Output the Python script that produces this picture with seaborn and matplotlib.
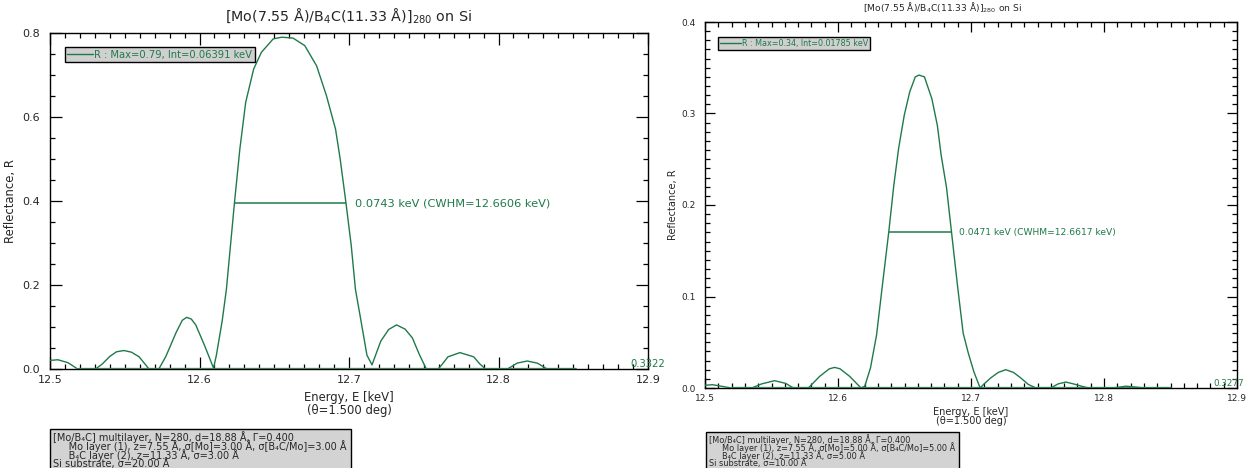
import matplotlib
matplotlib.use("Agg")
import matplotlib.pyplot as plt
from matplotlib.patches import Rectangle
from matplotlib.ticker import MultipleLocator, FormatStrFormatter
import pandas as pd
import seaborn as sns

# ---- reflectivity curves: energy (keV) and reflectance ----
energy_a = [12.500, 12.5053, 12.512, 12.5155, 12.5185, 12.5305, 12.535, 12.540, 12.5445,
            12.5495, 12.5545, 12.5596, 12.5635, 12.5662, 12.5728, 12.5775, 12.5845, 12.5885,
            12.5914, 12.5945, 12.5975, 12.6035, 12.6094, 12.6113, 12.6152, 12.6180, 12.6203,
            12.6235, 12.627, 12.6309, 12.6362, 12.6414, 12.6493, 12.6551, 12.6625, 12.6704,
            12.6783, 12.6849, 12.691, 12.6941, 12.6978, 12.7015, 12.7043, 12.708, 12.712,
            12.7154, 12.7212, 12.7265, 12.7318, 12.7375, 12.7424, 12.747, 12.7517, 12.7596,
            12.7625, 12.7662, 12.7742, 12.7834, 12.7875, 12.7914, 12.806, 12.8125, 12.8192,
            12.826, 12.8325, 12.852]
refl_a = [0.0205, 0.022, 0.015, 0.007, 0.0, 0.0, 0.012, 0.030, 0.041,
          0.044, 0.040, 0.029, 0.012, 0.0, 0.0, 0.030, 0.088, 0.116,
          0.123, 0.119, 0.105, 0.055, 0.002, 0.033, 0.115, 0.19, 0.278,
          0.40, 0.524, 0.635, 0.714, 0.754, 0.786, 0.790, 0.788, 0.770,
          0.722, 0.651, 0.571, 0.50, 0.40, 0.294, 0.19, 0.115, 0.033,
          0.0098, 0.066, 0.094, 0.105, 0.095, 0.074, 0.035, 0.0, 0.0,
          0.012, 0.029, 0.039, 0.029, 0.012, 0.0, 0.0, 0.014, 0.019,
          0.014, 0.0, 0.0]

energy_b = [12.500, 12.5057, 12.512, 12.5198, 12.5353, 12.5424, 12.5523, 12.5608, 12.5664,
            12.5777, 12.5862, 12.5935, 12.5975, 12.6015, 12.6088, 12.6173, 12.6201, 12.6244,
            12.629, 12.6332, 12.6382, 12.642, 12.6456, 12.6498, 12.6539, 12.6581, 12.6609,
            12.665, 12.6706, 12.6747, 12.6775, 12.6816, 12.6853, 12.690, 12.6941, 12.698,
            12.7021, 12.7058, 12.7069, 12.7095, 12.7148, 12.7205, 12.7261, 12.732, 12.7374,
            12.743, 12.7487, 12.760, 12.7655, 12.7713, 12.777, 12.783, 12.7883, 12.8067,
            12.8166, 12.8307, 12.8505]
refl_b = [0.003, 0.0036, 0.002, 0.0, 0.0, 0.0044, 0.008, 0.005, 0.0,
          0.0, 0.0127, 0.021, 0.0225, 0.021, 0.0127, 0.0, 0.0018, 0.0218,
          0.058, 0.110, 0.171, 0.222, 0.262, 0.298, 0.3235, 0.340, 0.342,
          0.340, 0.316, 0.287, 0.255, 0.219, 0.171, 0.110, 0.060, 0.038,
          0.018, 0.004, 0.0, 0.004, 0.011, 0.017, 0.020, 0.017, 0.011,
          0.004, 0.0, 0.0, 0.0045, 0.0065, 0.0045, 0.002, 0.0, 0.0,
          0.002, 0.0, 0.0]

# zero-level segment of each calculation range
base_a = [12.5185, 12.852]
base_b = [12.5198, 12.8505]

# summary numbers printed on each panel
peak_a, integral_a, fwhm_a, cwhm_a, corner_a = 0.79, 0.06391, 0.0743, 12.6606, "0.3322"
peak_b, integral_b, fwhm_b, cwhm_b, corner_b = 0.34, 0.01785, 0.0471, 12.6617, "0.3277"

ylim_a, ylim_b = 0.8, 0.4

title_text = "[Mo(7.55 Å)/B$_4$C(11.33 Å)]$_{280}$ on Si"

info_a = ("[Mo/B₄C] multilayer, N=280, d=18.88 Å, Γ=0.400\n"
          "     Mo layer (1), z=7.55 Å, σ[Mo]=3.00 Å, σ[B₄C/Mo]=3.00 Å\n"
          "     B₄C layer (2), z=11.33 Å, σ=3.00 Å\n"
          "Si substrate, σ=20.00 Å")
info_b = ("[Mo/B₄C] multilayer, N=280, d=18.88 Å, Γ=0.400\n"
          "     Mo layer (1), z=7.55 Å, σ[Mo]=5.00 Å, σ[B₄C/Mo]=5.00 Å\n"
          "     B₄C layer (2), z=11.33 Å, σ=5.00 Å\n"
          "Si substrate, σ=10.00 Å")

sns.set_theme(style="ticks")
plt.rcParams["font.family"] = ["DejaVu Sans"]
plt.rcParams["mathtext.fontset"] = "dejavusans"

GREEN = "#1f7a4a"
BASE = "#4f9f72"

fig = plt.figure(figsize=(12.46, 4.68), dpi=100)
W, H = 1246, 468
ax_a = fig.add_axes([50 / W, 1 - 369 / H, 598 / W, 336 / H])
ax_b = fig.add_axes([705 / W, 1 - 388 / H, 532 / W, 366 / H])

info_texts = []


def draw_panel(ax, energy, refl, base, peak, integral, fwhm, cwhm, corner, ytop,
               ymajor, yminor, fs, legend_anchor, info, info_xy):
    df = pd.DataFrame({"E": energy, "R": refl})
    ax.plot(base, [0, 0], color=BASE, lw=2.4, solid_capstyle="butt", zorder=2)
    sns.lineplot(data=df, x="E", y="R", ax=ax, color=GREEN, lw=1.0, estimator=None,
                 sort=False, label=f"R : Max={peak:.2f}, Int={integral:.5f} keV", zorder=3)

    half = peak / 2
    ax.hlines(half, cwhm - fwhm / 2, cwhm + fwhm / 2, color=GREEN, lw=1.1, zorder=3)
    ax.text(cwhm + fwhm / 2 + 0.006, half, f"{fwhm:.4f} keV (CWHM={cwhm:.4f} keV)",
            color=GREEN, fontsize=fs["fwhm"], va="center", ha="left")
    ax.text(fs["corner_x"], 0.0, corner, color=GREEN, fontsize=fs["corner"], ha="center",
            va="bottom", clip_on=False)

    ax.set_xlim(12.5, 12.9)
    ax.set_ylim(0, ytop)
    ax.xaxis.set_major_locator(MultipleLocator(0.1))
    ax.xaxis.set_minor_locator(MultipleLocator(0.01))
    ax.yaxis.set_major_locator(MultipleLocator(ymajor))
    ax.yaxis.set_minor_locator(MultipleLocator(yminor))
    ax.xaxis.set_major_formatter(FormatStrFormatter("%.1f"))
    ax.yaxis.set_major_formatter(FormatStrFormatter("%.1f"))
    ax.tick_params(which="both", direction="in", top=True, right=True,
                   color="black", width=0.9)
    ax.tick_params(which="major", length=fs["major"], labelsize=fs["tick"])
    ax.tick_params(which="minor", length=fs["minor"])
    ax.tick_params(axis="x", which="major", pad=4)
    ax.tick_params(axis="y", which="major", pad=fs["ypad"])
    for sp in ax.spines.values():
        sp.set_visible(True)
        sp.set_linewidth(1.0)
        sp.set_color("black")

    ax.text(fs["title_x"], 1.0 + fs["tpad"] / (ax.get_position().height * H), title_text,
            transform=ax.transAxes, fontsize=fs["title"], ha="center", va="bottom")
    ax.set_xlabel("Energy, E [keV]\n(θ=1.500 deg)", fontsize=fs["label"],
                  linespacing=0.95, labelpad=fs["xlpad"])
    ax.set_ylabel("Reflectance, R", fontsize=fs["label"], labelpad=fs["ylpad"])

    leg = ax.legend(loc="upper left", bbox_to_anchor=legend_anchor, fontsize=fs["legend"],
                    frameon=True, fancybox=False, framealpha=1, facecolor="#d0d0d0",
                    edgecolor="black", handlelength=2.6, handletextpad=0.1,
                    borderpad=0.25, borderaxespad=0, labelcolor=GREEN)
    leg.get_frame().set_linewidth(1.0)

    txt = fig.text(info_xy[0] / W, 1 - info_xy[1] / H, info, fontsize=fs["info"],
                   ha="left", va="top", linespacing=fs["info_ls"], zorder=5)
    info_texts.append((txt, info_xy[2]))


fs_a = dict(fwhm=8.2, corner=7.2, corner_x=12.9, major=8.5, minor=3.5, tick=8, ypad=7,
            title=10.3, title_x=0.5, tpad=8, label=8.4, xlpad=5, ylpad=4, legend=7.2,
            info=7.0, info_ls=0.70)
fs_b = dict(fwhm=6.6, corner=6.3, corner_x=12.894, major=7.5, minor=3.5, tick=6.5, ypad=7,
            title=6.6, title_x=0.447, tpad=7, label=7.0, xlpad=3, ylpad=2, legend=5.8,
            info=5.9, info_ls=0.68)

draw_panel(ax_a, energy_a, refl_a, base_a, peak_a, integral_a, fwhm_a, cwhm_a, corner_a,
           ylim_a, 0.2, 0.05, fs_a, (0.025, 0.958), info_a, (53, 431, 429))
draw_panel(ax_b, energy_b, refl_b, base_b, peak_b, integral_b, fwhm_b, cwhm_b, corner_b,
           ylim_b, 0.1, 0.01, fs_b, (0.024, 0.959), info_b, (709, 434, 432))

# grey parameter boxes behind the description texts, running off the bottom edge
fig.canvas.draw()
renderer = fig.canvas.get_renderer()
for txt, top_px in info_texts:
    bb = txt.get_window_extent(renderer)
    x0 = bb.x0 - 3
    x1 = bb.x1 + 4
    y_top = H - top_px
    fig.patches.append(Rectangle((x0 / W, -0.02), (x1 - x0) / W, y_top / H + 0.02,
                                 transform=fig.transFigure, facecolor="#d3d3d3",
                                 edgecolor="black", lw=1.0, zorder=1))

fig.savefig("out.png", dpi=100)
